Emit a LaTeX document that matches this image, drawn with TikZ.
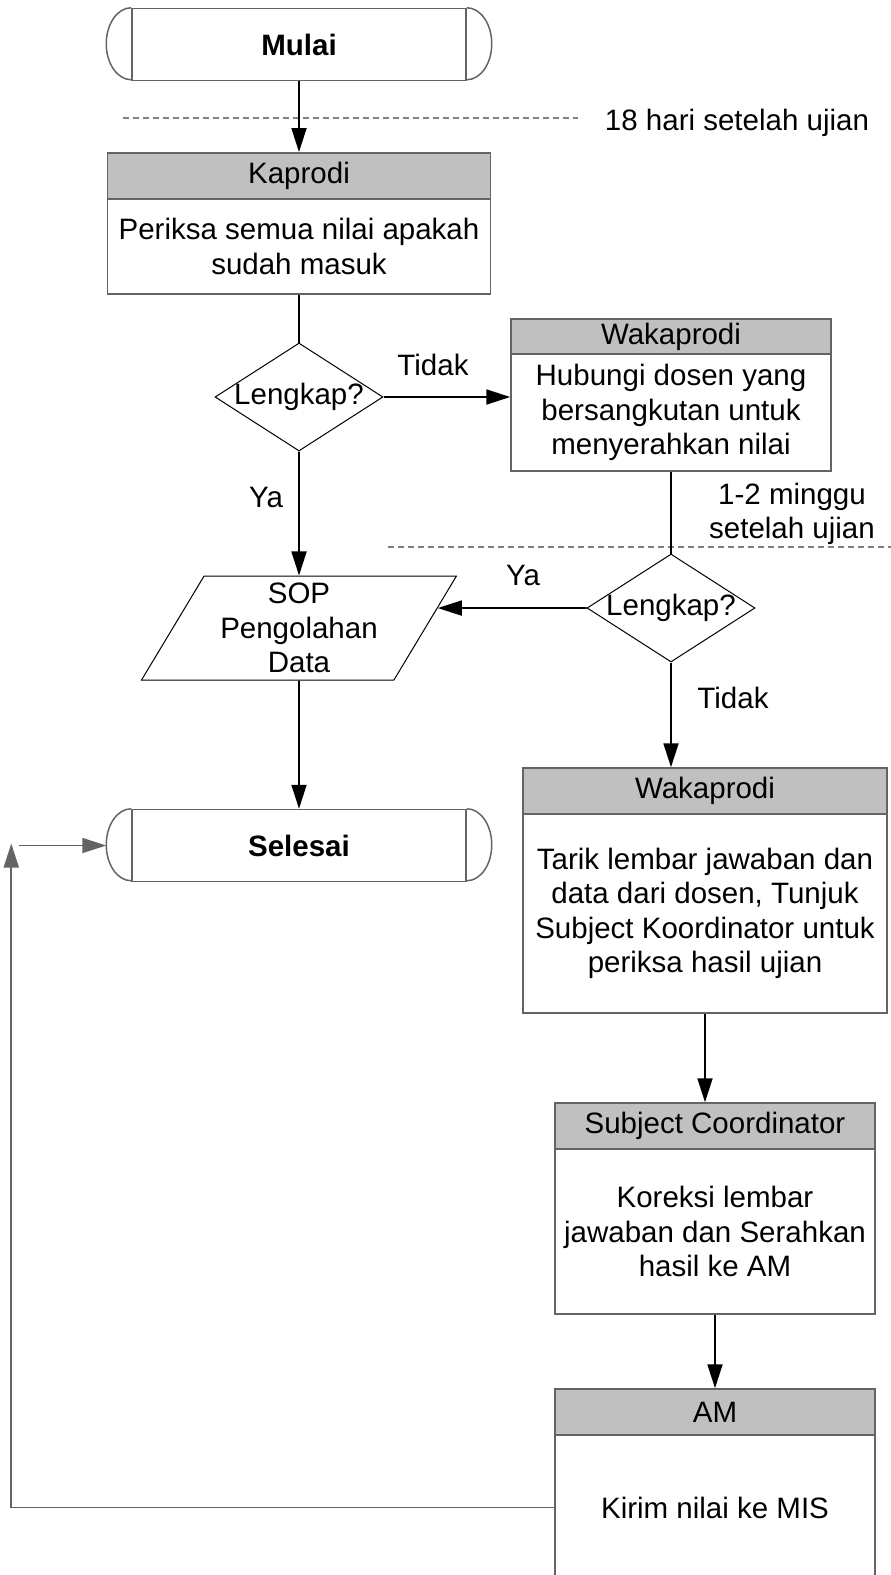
\documentclass[tikz,border=0pt]{standalone}
\usepackage{fontspec}
\setmainfont{Liberation Sans}
\usetikzlibrary{calc, arrows.meta, shapes.geometric}
\definecolor{linegray}{RGB}{100,100,100}
\definecolor{headgray}{RGB}{192,192,192}
\definecolor{dashgray}{RGB}{128,128,128}
\tikzstyle{hdbox}=[draw=linegray, fill=headgray, line width=1.5pt, inner sep=0pt, minimum height=46pt]
\tikzstyle{bdbox}=[draw=linegray, fill=white, line width=1.5pt, inner sep=0pt, align=center]
\tikzstyle{termbox}=[draw=linegray, line width=1.5pt, minimum width=334pt, minimum height=72pt, font=\fontsize{29.5}{34.5}\selectfont\bfseries]
\tikzstyle{decbox}=[draw, diamond, line width=1pt, aspect=1.556, minimum width=168pt, minimum height=108pt, inner sep=-2pt]
\tikzstyle{iobox}=[draw, trapezium, trapezium left angle=60, trapezium right angle=120, trapezium stretches, line width=1pt, minimum width=316pt, minimum height=104pt, inner sep=0pt, align=center]
\tikzstyle{timeline}=[dashgray, line width=1.2pt, dash pattern=on 6pt off 4pt]
\tikzstyle{flowline}=[line width=1.8pt, ->]
\tikzstyle{plainline}=[line width=1.8pt]
\tikzstyle{loopline}=[linegray, line width=1.8pt]

\begin{document}
\begin{tikzpicture}[x=1pt, y=1pt, >={Triangle[length=24pt,width=15pt]}, font=\fontsize{29.5}{34.5}\selectfont]
  \useasboundingbox (0,0) rectangle (891,-1575);

  % left column
  \node [termbox] (mulai) at (299,-44.5) {Mulai};
  \node [hdbox, minimum width=383pt] (kaphead) [below of=mulai, node distance=131.25pt] {Kaprodi};
  \node [bdbox, minimum width=383pt, minimum height=95pt] (kapbody) [below of=kaphead, node distance=70.75pt] {Periksa semua nilai apakah\\sudah masuk};
  \node [decbox] (dia1) [below of=kapbody, node distance=150.5pt] {Lengkap?};
  \node [iobox] (sop) [below of=dia1, node distance=231pt] {SOP\\Pengolahan\\Data};
  \node [termbox] (selesai) [below of=sop, node distance=217.5pt] {Selesai};

  % right column
  \node [hdbox, minimum width=320pt, minimum height=35pt] (wak1head) at (671,-336.5) {Wakaprodi};
  \node [bdbox, minimum width=320pt, minimum height=117pt] (wak1body) [below of=wak1head, node distance=76pt] {Hubungi dosen yang\\bersangkutan untuk\\menyerahkan nilai};
  \node [decbox] (dia2) [below of=wak1body, node distance=195.5pt] {Lengkap?};
  \node [hdbox, minimum width=364pt] (wak2head) at (705,-791) {Wakaprodi};
  \node [bdbox, minimum width=364pt, minimum height=199pt] (wak2body) [below of=wak2head, node distance=122.5pt] {Tarik lembar jawaban dan\\data dari dosen, Tunjuk\\Subject Koordinator untuk\\periksa hasil ujian};
  \node [hdbox, minimum width=320pt] (schead) at (715,-1126) {Subject Coordinator};
  \node [bdbox, minimum width=320pt, minimum height=165pt] (scbody) [below of=schead, node distance=105.5pt] {Koreksi lembar\\jawaban dan Serahkan\\hasil ke AM};
  \node [hdbox, minimum width=320pt] (amhead) [below of=scbody, node distance=180.5pt] {AM};
  \node [bdbox, minimum width=320pt, minimum height=145pt] (ambody) [below of=amhead, node distance=95.5pt] {Kirim nilai ke MIS};

  % rounded ends of the terminals
  \foreach \t in {mulai, selesai} {
    \draw[linegray, line width=1.5pt] (\t.north west) arc[start angle=90, end angle=270, x radius=25pt, y radius=36pt];
    \draw[linegray, line width=1.5pt] (\t.north east) arc[start angle=90, end angle=-90, x radius=25pt, y radius=36pt];
  }

  % time marks
  \coordinate (t1a) at (123,-118);
  \coordinate (t1b) at (578,-118);
  \coordinate (t2a) at (388,-547);
  \coordinate (t2b) at (891,-547);
  \draw[timeline] (t1a) -- (t1b);
  \draw[timeline] (t2a) -- (t2b);
  \node (hari) at (737,-123) {18 hari setelah ujian};
  \node [align=center] (minggu) at (792,-514) {1-2 minggu\\setelah ujian};

  % labels
  \node (tidak1) at (433,-365) {Tidak};
  \node (ya1) at (266,-497) {Ya};
  \node (ya2) at (523,-575) {Ya};
  \node (tidak2) at (733,-698) {Tidak};

  \draw[flowline] (mulai.south) -- (kaphead.north);
  \draw[plainline] (kapbody.south) -- (dia1.north);
  \draw[flowline] (dia1.east) -- (dia1.east -| wak1body.west);
  \draw[flowline] (dia1.south) -- (sop.north);
  \draw[flowline] (sop.south) -- (selesai.north);
  \draw[plainline] (wak1body.south) -- (dia2.north);
  \draw[flowline] (dia2.west) -- ($(sop.top right corner)!0.31!(sop.bottom right corner)$);
  \draw[flowline] (dia2.south) -- (dia2.south |- wak2head.north);
  \draw[flowline] (wak2body.south) -- (wak2body.south |- schead.north);
  \draw[flowline] (scbody.south) -- (amhead.north);

  % back to Selesai
  \coordinate (looptop) at ([xshift=-120pt, yshift=2pt]selesai.west);
  \coordinate (loopin) at ([xshift=-112pt]selesai.west);
  \draw[loopline, ->] (ambody.west) -| (looptop);
  \draw[loopline, ->] (loopin) -- ([xshift=-25pt]selesai.west);
\end{tikzpicture}
\end{document}
